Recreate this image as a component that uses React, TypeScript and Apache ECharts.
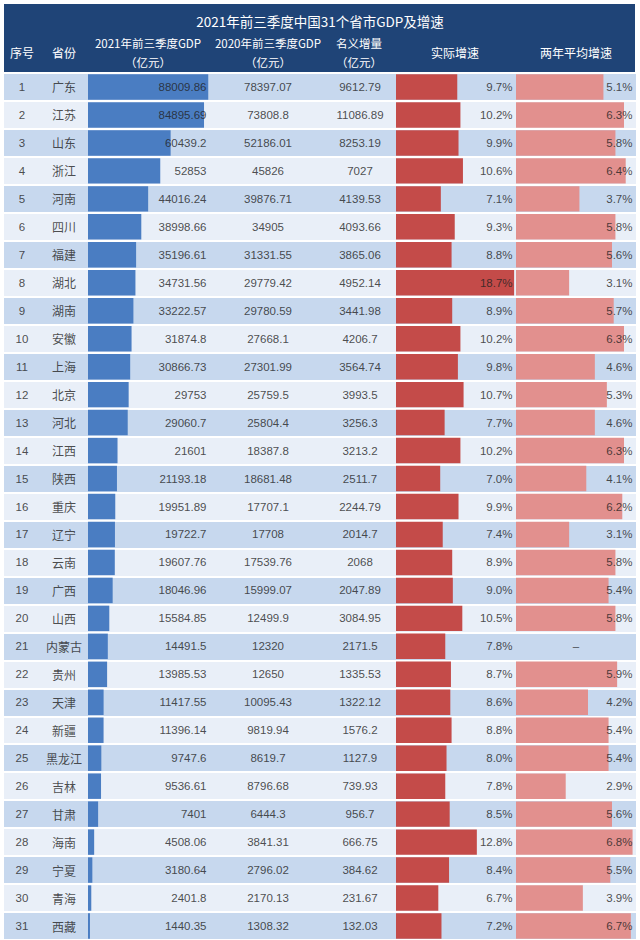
import React, { useEffect, useRef } from "react";
import * as echarts from "echarts";

const ranks = ["1","2","3","4","5","6","7","8","9","10","11","12","13","14","15","16","17","18","19","20","21","22","23","24","25","26","27","28","29","30","31"];
const provinces = ["广东","江苏","山东","浙江","河南","四川","福建","湖北","湖南","安徽","上海","北京","河北","江西","陕西","重庆","辽宁","云南","广西","山西","内蒙古","贵州","天津","新疆","黑龙江","吉林","甘肃","海南","宁夏","青海","西藏"];
const gdp2021 = [88009.86,84895.69,60439.2,52853,44016.24,38998.66,35196.61,34731.56,33222.57,31874.8,30866.73,29753,29060.7,21601,21193.18,19951.89,19722.7,19607.76,18046.96,15584.85,14491.5,13985.53,11417.55,11396.14,9747.6,9536.61,7401,4508.06,3180.64,2401.8,1440.35];
const gdp2020 = [78397.07,73808.8,52186.01,45826,39876.71,34905,31331.55,29779.42,29780.59,27668.1,27301.99,25759.5,25804.4,18387.8,18681.48,17707.1,17708,17539.76,15999.07,12499.9,12320,12650,10095.43,9819.94,8619.7,8796.68,6444.3,3841.31,2796.02,2170.13,1308.32];
const nominalIncrease = [9612.79,11086.89,8253.19,7027,4139.53,4093.66,3865.06,4952.14,3441.98,4206.7,3564.74,3993.5,3256.3,3213.2,2511.7,2244.79,2014.7,2068,2047.89,3084.95,2171.5,1335.53,1322.12,1576.2,1127.9,739.93,956.7,666.75,384.62,231.67,132.03];
const realGrowth = [9.7,10.2,9.9,10.6,7.1,9.3,8.8,18.7,8.9,10.2,9.8,10.7,7.7,10.2,7.0,9.9,7.4,8.9,9.0,10.5,7.8,8.7,8.6,8.8,8.0,7.8,8.5,12.8,8.4,6.7,7.2];
const twoYearAvg: (number | null)[] = [5.1,6.3,5.8,6.4,3.7,5.8,5.6,3.1,5.7,6.3,4.6,5.3,4.6,6.3,4.1,6.2,3.1,5.8,5.4,5.8,null,5.9,4.2,5.4,5.4,2.9,5.6,6.8,5.5,3.9,6.7];

const TITLE = "2021年前三季度中国31个省市GDP及增速";
const UNIT = "（亿元）";

const FONT = "'Liberation Sans', 'Noto Sans CJK SC', sans-serif";
const CJK = "'Noto Sans CJK SC', 'Liberation Sans', sans-serif";

const TOP = 73;
const ROW_H = 28.2;
const GRID_H = ROW_H * provinces.length;

export default function App() {
  const ref = useRef<HTMLDivElement>(null);
  useEffect(() => {
    if (!ref.current) return;
    const chart = echarts.init(ref.current, null, { renderer: "svg" });

    const catAxis = (gridIndex: number, extra: any = {}) => ({
      type: "category",
      gridIndex,
      data: provinces,
      inverse: true,
      axisLine: { show: false },
      axisTick: { show: false },
      axisLabel: { show: false },
      ...extra,
    });
    const valAxis = (gridIndex: number, min: number, max: number) => ({
      type: "value",
      gridIndex,
      min,
      max,
      show: false,
      splitLine: { show: false },
    });

    const textCol = (px: number, texts: string[], right: boolean, fontFamily = FONT, fontSize = 11.5) => ({
      type: "scatter",
      xAxisIndex: 0,
      yAxisIndex: 0,
      z: 10,
      symbolSize: 1,
      itemStyle: { color: "rgba(0,0,0,0)" },
      silent: true,
      data: texts.map((t, i) => [px, provinces[i]]),
      label: {
        show: true,
        position: right ? "left" : "inside",
        distance: 0,
        color: "#222",
        fontSize,
        fontFamily,
        formatter: (p: any) => texts[p.dataIndex],
      },
    });

    const twoYearLabels = twoYearAvg.map((v) => (v == null ? "" : v.toFixed(1) + "%"));
    const twoYearDash = twoYearAvg.map((v) => (v == null ? "–" : ""));

    const headerText = (text: string, x: number, y: number, size = 11.5) => ({
      type: "text",
      x,
      y,
      z: 5,
      style: {
        text,
        fill: "#fff",
        align: "center",
        verticalAlign: "middle",
        fontSize: size,
        fontFamily: CJK,
      },
    });

    const option: any = {
      animation: false,
      backgroundColor: "#ffffff",
      title: {
        text: TITLE,
        left: "center",
        top: 9,
        textStyle: { color: "#ffffff", fontSize: 13.5, fontWeight: "normal", fontFamily: CJK },
      },
      graphic: [
        { type: "rect", shape: { x: 4, y: 4, width: 631, height: 68 }, style: { fill: "#1f4477" }, z: 0 },
        headerText("序号", 22, 52, 12),
        headerText("省份", 64, 52, 12),
        headerText("2021年前三季度GDP", 148, 43),
        headerText(UNIT, 148, 62),
        headerText("2020年前三季度GDP", 268, 43),
        headerText(UNIT, 268, 62),
        headerText("名义增量", 359, 43),
        headerText(UNIT, 359, 62),
        headerText("实际增速", 455, 52, 12),
        headerText("两年平均增速", 576, 52, 12),
      ],
      grid: [
        { left: 4, width: 632, top: TOP, height: GRID_H, containLabel: false },
        { left: 88, width: 123, top: TOP, height: GRID_H },
        { left: 396, width: 120, top: TOP, height: GRID_H },
        { left: 516, width: 120, top: TOP, height: GRID_H },
      ],
      xAxis: [valAxis(0, 4, 636), valAxis(1, 0, 90000), valAxis(2, 0, 19), valAxis(3, 0, 7)],
      yAxis: [
        catAxis(0, {
          splitArea: { show: true, areaStyle: { color: ["#c7d8ee", "#e9eff8"] } },
          splitLine: { show: true, lineStyle: { color: "#ffffff", width: 2 } },
        }),
        catAxis(1),
        catAxis(2),
        catAxis(3),
      ],
      series: [
        {
          type: "bar",
          xAxisIndex: 1,
          yAxisIndex: 1,
          data: gdp2021,
          barWidth: "91%",
          itemStyle: { color: "#4a7dc2" },
          silent: true,
        },
        {
          type: "bar",
          xAxisIndex: 2,
          yAxisIndex: 2,
          data: realGrowth,
          barWidth: "91%",
          itemStyle: { color: "#c44b49" },
          silent: true,
        },
        {
          type: "bar",
          xAxisIndex: 3,
          yAxisIndex: 3,
          data: twoYearAvg.map((v) => (v == null ? "-" : v)),
          barWidth: "91%",
          itemStyle: { color: "#e2908e" },
          silent: true,
        },
        textCol(22, ranks, false),
        textCol(64, provinces, false, CJK, 12),
        textCol(207, gdp2021.map(String), true),
        textCol(268, gdp2020.map(String), false),
        textCol(360, nominalIncrease.map(String), false),
        textCol(513, realGrowth.map((v) => v.toFixed(1) + "%"), true),
        textCol(633, twoYearLabels, true),
        textCol(576, twoYearDash, false),
      ],
    };

    chart.setOption(option);
    return () => chart.dispose();
  }, []);

  return (
    <div
      ref={ref}
      style={{ position: "absolute", left: 0, top: 0, width: 640, height: 940 }}
    />
  );
}
